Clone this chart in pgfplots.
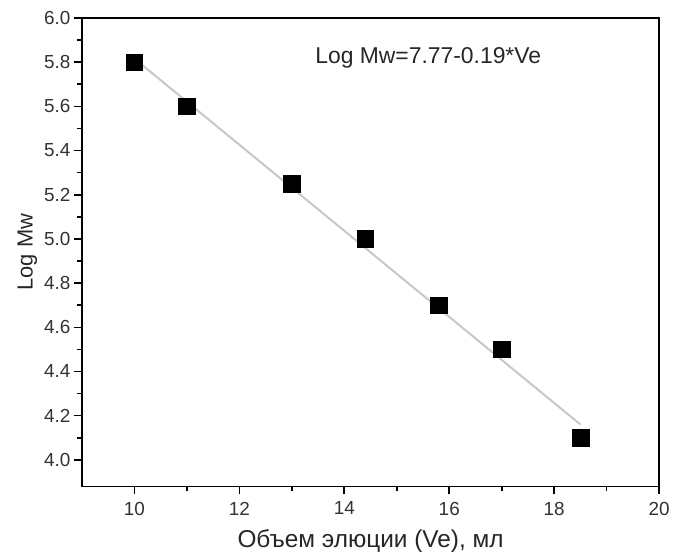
\documentclass[border=0pt]{standalone}
\usepackage{fontspec}
\setmainfont{Liberation Sans}
\usepackage{pgfplots}
\pgfplotsset{compat=1.18}
\begin{document}
\begin{tikzpicture}
\begin{axis}[
  scale only axis,
  width=578bp, height=469bp,
  xmin=9, xmax=20, ymin=3.88, ymax=6.0,
  xtick={10,12,...,20}, ytick={4.0,4.2,...,6.01},
  minor x tick num=1, minor y tick num=1,
  axis line style={line width=1.6pt},
  tick style={line width=1.6pt, black},
  major tick length=8bp, minor tick length=5bp,
  tick align=outside,
  xtick pos=bottom, ytick pos=left,
  /pgf/number format/assume math mode=true,
  xticklabel style={/pgf/number format/fixed, /pgf/number format/precision=0, yshift=-4bp},
  yticklabel style={/pgf/number format/fixed, /pgf/number format/fixed zerofill, /pgf/number format/precision=1},
  ticklabel style={font=\fontsize{19}{22}\selectfont, text=black!80},
  ylabel style={font=\fontsize{22}{26}\selectfont, text=black!85},
  xlabel style={font=\fontsize{24.5}{28}\selectfont, text=black!85, yshift=-8bp},
  xlabel={Объем элюции (Ve), мл},
  ylabel={Log Mw},
]
\addplot[color=black!22, line width=2pt, forget plot] coordinates {(10,5.816) (18.5,4.16)};
\addplot[only marks, mark=square*, mark size=8.3bp, black] coordinates {
(10,5.8) (11,5.6) (13,5.25) (14.4,5.0) (15.8,4.7) (17,4.5) (18.5,4.1)};
\node[anchor=center, font=\fontsize{23}{27}\selectfont, text=black!85] at (axis cs:15.6,5.82) {Log Mw=7.77-0.19*Ve};
\end{axis}
\useasboundingbox ([xshift=-82bp,yshift=-69bp]current axis.south west) rectangle ([xshift=13bp,yshift=18bp]current axis.north east);
\end{tikzpicture}
\end{document}
